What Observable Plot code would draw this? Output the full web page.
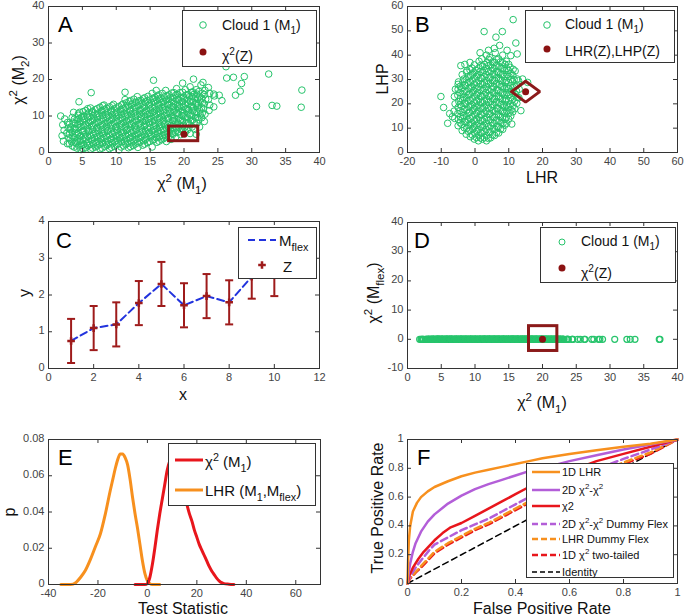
<!DOCTYPE html>
<html><head><meta charset="utf-8">
<script src="https://cdn.jsdelivr.net/npm/d3@7"></script>
<script src="https://cdn.jsdelivr.net/npm/@observablehq/plot@0.6"></script>
<style>
html,body{margin:0;padding:0;background:#fff;}
#fig{position:relative;width:685px;height:616px;overflow:hidden;font-family:"Liberation Sans",Arial,sans-serif;}
#fig > svg{position:absolute;}
</style></head><body><div id="fig"></div>
<script>
// ---------- DATA ----------
// Panel A: chi2(M1) vs chi2(M2) cloud (D reuses the chi2(M1) values)
const cloudA = [
[1.8,10],[2.2,3.1],[2.0,4.6],[2.3,6.1],[2.1,7.6],[2.4,9.2],
[2.8,2.4],[3.0,4.0],[2.7,5.3],[2.9,6.7],[2.8,8.2],
[3.5,1.8],[3.4,3.0],[3.6,4.3],[3.5,5.6],[3.3,7.0],[3.6,8.3],[3.5,9.6],[3.7,11.0],
[4.2,1.2],[4.1,2.5],[4.3,3.7],[4.2,5.0],[4.0,6.3],[4.3,7.6],[4.2,9.0],[4.4,10.2],
[4.8,0.8],[4.9,2.0],[4.7,3.2],[4.8,4.5],[5.0,5.8],[4.8,7.1],[4.7,8.4],[4.9,9.7],[4.6,11.0],[4.5,13.9],
[5.5,1.3],[5.6,2.6],[5.4,3.9],[5.5,5.1],[5.7,6.4],[5.5,7.7],[5.3,9.0],[5.6,10.3],[5.5,11.5],
[6.2,0.9],[6.1,2.1],[6.3,3.4],[6.2,4.6],[6.0,5.9],[6.3,7.2],[6.2,8.5],[6.1,9.8],[6.4,11.0],[6.2,12.2],[6.3,16.4],
[6.9,1.5],[7.0,2.8],[6.8,4.0],[6.9,5.3],[7.1,6.6],[6.9,7.9],[6.7,9.2],[7.0,10.4],[6.9,11.7],
[7.6,1.0],[7.5,2.2],[7.7,3.5],[7.6,4.7],[7.4,6.0],[7.7,7.3],[7.6,8.6],[7.5,9.9],[7.8,11.1],[7.6,12.4],
[8.3,1.6],[8.4,2.9],[8.2,4.1],[8.3,5.4],[8.5,6.7],[8.3,8.0],[8.1,9.3],[8.4,10.5],[8.3,11.8],[8.2,13.0],
[9.0,1.1],[8.9,2.3],[9.1,3.6],[9.0,4.8],[8.8,6.1],[9.1,7.4],[9.0,8.7],[8.9,10.0],[9.2,11.2],[9.0,12.5],
[9.7,1.7],[9.8,3.0],[9.6,4.2],[9.7,5.5],[9.9,6.8],[9.7,8.1],[9.5,9.4],[9.8,10.6],[9.7,11.9],[9.6,13.2],
[10.4,0.7],[10.3,2.4],[10.5,3.7],[10.4,4.9],[10.2,6.2],[10.5,7.5],[10.4,8.8],[10.3,10.1],[10.6,11.3],[10.4,12.6],
[11.1,1.8],[11.2,3.1],[11.0,4.3],[11.1,5.6],[11.3,6.9],[11.1,8.2],[10.9,9.5],[11.2,10.7],[11.1,12.0],[11.0,13.3],[11.3,14.5],[11.3,16.5],
[11.8,1.3],[11.7,2.5],[11.9,3.8],[11.8,5.0],[11.6,6.3],[11.9,7.6],[11.8,8.9],[11.7,10.2],[12.0,11.4],[11.8,12.7],[11.9,14.0],
[12.5,1.9],[12.6,3.2],[12.4,4.4],[12.5,5.7],[12.7,7.0],[12.5,8.3],[12.3,9.6],[12.6,10.8],[12.5,12.1],[12.4,13.4],[12.6,14.6],
[13.2,1.4],[13.1,2.6],[13.3,3.9],[13.2,5.1],[13.0,6.4],[13.3,7.7],[13.2,9.0],[13.1,10.3],[13.4,11.5],[13.2,12.8],[13.3,14.1],[13.1,15.3],
[13.9,2.0],[14.0,3.3],[13.8,4.5],[13.9,5.8],[14.1,7.1],[13.9,8.4],[13.7,9.7],[14.0,10.9],[13.9,12.2],[13.8,13.5],[14.0,14.7],
[14.6,2.7],[14.5,4.0],[14.7,5.2],[14.6,6.5],[14.4,7.8],[14.7,9.1],[14.6,10.4],[14.5,11.6],[14.8,12.9],[14.6,14.2],[14.7,15.4],
[15.3,1.5],[15.4,3.4],[15.2,4.6],[15.3,5.9],[15.5,7.2],[15.3,8.5],[15.1,9.8],[15.4,11.0],[15.3,12.3],[15.2,13.6],[15.4,14.8],[15.3,16.2],[15.5,19.8],
[16.0,2.8],[15.9,4.1],[16.1,5.3],[16.0,6.6],[15.8,7.9],[16.1,9.2],[16.0,10.5],[15.9,11.7],[16.2,13.0],[16.0,14.3],[16.1,15.5],[15.9,17.0],
[16.7,3.5],[16.8,4.7],[16.6,6.0],[16.7,7.3],[16.9,8.6],[16.7,9.9],[16.5,11.1],[16.8,12.4],[16.7,13.7],[16.6,14.9],[16.8,16.2],
[17.4,3.0],[17.3,4.2],[17.5,5.4],[17.4,6.7],[17.2,8.0],[17.5,9.3],[17.4,10.6],[17.3,11.8],[17.6,13.1],[17.4,14.4],[17.5,15.6],[17.3,17.0],
[18.1,3.6],[18.3,5.2],[18.0,6.1],[18.1,7.4],[18.3,8.7],[18.1,10.0],[17.9,11.2],[18.2,12.5],[18.1,13.8],[18.0,15.0],[18.2,16.3],
[18.8,4.3],[18.7,5.5],[18.9,6.8],[18.8,8.1],[18.6,9.4],[18.9,10.7],[18.8,11.9],[18.7,13.2],[19.0,14.5],[18.8,15.7],[18.9,17.5],
[19.5,4.9],[19.6,6.2],[19.4,7.5],[19.5,8.8],[19.7,10.1],[19.5,11.3],[19.3,12.6],[19.6,13.9],[19.5,15.1],[19.4,16.4],[19.8,19.0],
[20.2,5.6],[20.1,6.9],[20.3,8.2],[20.2,9.5],[20.0,10.8],[20.3,12.0],[20.2,13.3],[20.1,14.6],[20.4,15.8],[20.2,17.2],
[20.9,5.2],[20.8,7.6],[21.0,8.9],[20.9,10.2],[20.7,11.5],[21.0,12.7],[20.9,14.0],[20.8,15.3],[21.1,16.5],[20.9,18.0],
[21.8,5.0],[21.6,6.3],[21.5,8.3],[21.7,9.6],[21.6,10.9],[21.4,12.2],[21.7,13.4],[21.6,14.7],[21.5,16.0],[21.8,17.2],[21.4,20.1],
[22.3,7.0],[22.2,9.0],[22.4,10.3],[22.3,11.6],[22.1,12.9],[22.4,14.1],[22.3,15.4],[22.2,16.7],[22.5,18.5],[22.8,19.2],
[23.0,8.5],[23.1,10.5],[22.9,12.0],[23.0,13.3],[23.2,14.6],[23.0,15.9],[23.1,17.0],[23.6,17.8],
[23.7,11.5],[23.8,13.0],[23.6,14.5],[23.8,16.2],
[24.4,12.5],[24.5,15.5],[24.4,16.0],
[25.2,15.7],[25.6,14.2],[26.2,23.5],[26.3,20.4],[27.3,20.6],[27.6,15.7],[28.3,16.8],[28.5,18.9],[28.9,20.8],
[30.7,12.6],[32.5,21.5],[33.0,12.9],[33.7,12.7],[37.3,12.4],[37.4,17.1],
[3.1,2.4],[3.2,3.7],[3.1,5.0],[3.2,6.3],[3.1,7.7],
[3.8,1.5],[3.9,2.8],[3.8,4.1],[3.9,5.3],[3.8,6.6],[3.9,7.9],[3.8,9.1],
[4.5,1.8],[4.5,3.0],[4.6,4.3],[4.4,5.5],[4.5,6.8],[4.6,8.0],[4.5,9.3],[4.4,10.6],
[5.1,1.0],[5.2,2.2],[5.1,3.5],[5.2,4.8],[5.1,6.0],[5.2,7.3],[5.1,8.6],[5.2,9.9],[5.1,11.2],
[5.8,1.9],[5.9,3.1],[5.8,4.4],[5.9,5.7],[5.8,7.0],[5.9,8.2],[5.8,9.5],[5.9,10.8],[5.8,12.0],
[6.5,1.2],[6.6,2.5],[6.5,3.7],[6.6,5.0],[6.5,6.3],[6.6,7.5],[6.5,8.8],[6.6,10.1],[6.5,11.3],
[7.2,1.8],[7.3,3.1],[7.2,4.3],[7.3,5.6],[7.2,6.9],[7.3,8.2],[7.2,9.5],[7.3,10.7],[7.2,12.0],
[7.9,1.2],[8.0,2.6],[7.9,3.8],[8.0,5.1],[7.9,6.3],[8.0,7.6],[7.9,8.9],[8.0,10.2],[7.9,11.5],[8.0,12.8],
[8.6,2.0],[8.7,3.2],[8.6,4.5],[8.7,5.8],[8.6,7.1],[8.7,8.3],[8.6,9.6],[8.7,10.9],[8.6,12.1],
[9.3,1.4],[9.4,2.7],[9.3,3.9],[9.4,5.2],[9.3,6.5],[9.4,7.8],[9.3,9.0],[9.4,10.3],[9.3,11.6],[9.4,12.8],
[10.0,2.1],[10.1,3.4],[10.0,4.6],[10.1,5.9],[10.0,7.1],[10.1,8.4],[10.0,9.7],[10.1,11.0],[10.0,12.2],
[10.7,1.5],[10.8,2.9],[10.7,4.1],[10.8,5.4],[10.7,6.7],[10.8,7.9],[10.7,9.2],[10.8,10.5],[10.7,11.8],[10.8,13.0],
[11.4,2.2],[11.5,3.5],[11.4,4.8],[11.5,6.0],[11.4,7.3],[11.5,8.6],[11.4,9.8],[11.5,11.1],[11.4,12.4],[11.5,13.6],
[12.1,1.6],[12.2,2.9],[12.1,4.1],[12.2,5.4],[12.1,6.7],[12.2,7.9],[12.1,9.2],[12.2,10.5],[12.1,11.7],[12.2,13.0],[12.1,14.2],
[12.8,2.3],[12.9,3.6],[12.8,4.8],[12.9,6.1],[12.8,7.4],[12.9,8.6],[12.8,9.9],[12.9,11.2],[12.8,12.4],[12.9,13.7],
[13.5,2.8],[13.6,4.1],[13.5,5.4],[13.6,6.7],[13.5,7.9],[13.6,9.2],[13.5,10.5],[13.6,11.7],[13.5,13.0],[13.6,14.3],
[14.2,2.3],[14.3,3.6],[14.2,4.9],[14.3,6.1],[14.2,7.4],[14.3,8.7],[14.2,9.9],[14.3,11.2],[14.2,12.5],[14.3,13.8],[14.2,15.0],
[14.9,3.0],[15.0,4.3],[14.9,5.5],[15.0,6.8],[14.9,8.1],[15.0,9.3],[14.9,10.6],[15.0,11.9],[14.9,13.2],[15.0,14.4],
[15.6,3.6],[15.7,4.9],[15.6,6.2],[15.7,7.4],[15.6,8.7],[15.7,10.0],[15.6,11.3],[15.7,12.5],[15.6,13.8],[15.7,15.1],
[16.3,3.1],[16.4,4.4],[16.3,5.6],[16.4,6.9],[16.3,8.2],[16.4,9.5],[16.3,10.7],[16.4,12.0],[16.3,13.3],[16.4,14.5],[16.3,15.8],
[17.0,3.8],[17.1,5.0],[17.0,6.3],[17.1,7.6],[17.0,8.9],[17.1,10.1],[17.0,11.4],[17.1,12.7],[17.0,13.9],[17.1,15.2],
[17.7,4.3],[17.8,5.6],[17.7,6.9],[17.8,8.1],[17.7,9.4],[17.8,10.7],[17.7,11.9],[17.8,13.2],[17.7,14.5],[17.8,15.8],
[18.4,5.0],[18.5,6.2],[18.4,7.5],[18.5,8.8],[18.4,10.0],[18.5,11.3],[18.4,12.6],[18.5,13.9],[18.4,15.1],[18.5,16.4],
[19.1,5.6],[19.2,6.9],[19.1,8.1],[19.2,9.4],[19.1,10.7],[19.2,12.0],[19.1,13.2],[19.2,14.5],[19.1,15.8],
[19.8,6.3],[19.9,7.5],[19.8,8.8],[19.9,10.1],[19.8,11.4],[19.9,12.6],[19.8,13.9],[19.9,15.2],[19.8,16.5],
[20.5,6.2],[20.6,8.2],[20.5,9.5],[20.6,10.8],[20.5,12.0],[20.6,13.3],[20.5,14.6],[20.6,15.9],
[21.2,7.0],[21.3,8.9],[21.2,10.2],[21.3,11.5],[21.2,12.7],[21.3,14.0],[21.2,15.3],[21.3,16.6],
[21.9,8.0],[22.0,9.6],[21.9,10.9],[22.0,12.2],[21.9,13.5],[22.0,14.7],[21.9,16.0],
[22.6,9.5],[22.7,10.8],[22.6,12.3],[22.7,13.6],[22.6,14.9],[22.7,16.2]
];
const zA = [[20, 5]];
const boxA = [[17.8, 22.1, 3.1, 7.1]];

// Panel B: LHR vs LHP cloud
const cloudB = [
[-6.0,14],[-6.2,17],[-5.9,20],[-6.1,23],[-5.8,26],
[-5.0,11],[-4.9,13.5],[-5.1,16],[-5.0,18.5],[-4.8,21],[-5.1,23.5],[-5.0,26],[-4.9,29],
[-3.8,9],[-3.9,11.5],[-3.7,14],[-3.8,16.5],[-4.0,19],[-3.7,21.5],[-3.8,24],[-3.9,26.5],[-3.6,29],[-3.8,32],
[-2.6,7.5],[-2.5,10],[-2.7,12.5],[-2.6,15],[-2.4,17.5],[-2.7,20],[-2.6,22.5],[-2.5,25],[-2.8,27.5],[-2.6,30],[-2.5,33],
[-1.4,6.5],[-1.5,9],[-1.3,11.5],[-1.4,14],[-1.6,16.5],[-1.3,19],[-1.4,21.5],[-1.5,24],[-1.2,26.5],[-1.4,29],[-1.3,31.5],[-1.5,34],
[-0.2,5.5],[-0.1,8],[-0.3,10.5],[-0.2,13],[0.0,15.5],[-0.3,18],[-0.2,20.5],[-0.1,23],[-0.4,25.5],[-0.2,28],[-0.1,30.5],[-0.3,33],[-0.2,36],
[1.0,4.8],[1.1,7],[0.9,9.5],[1.0,12],[1.2,14.5],[0.9,17],[1.0,19.5],[1.1,22],[0.8,24.5],[1.0,27],[1.1,29.5],[0.9,32],[1.0,34.5],[1.2,37.5],
[2.2,5.5],[2.1,8],[2.3,10.5],[2.2,13],[2.0,15.5],[2.3,18],[2.2,20.5],[2.1,23],[2.4,25.5],[2.2,28],[2.1,30.5],[2.3,33],[2.2,35.5],[2.0,38.5],
[3.4,4.8],[3.5,7],[3.3,9.5],[3.4,12],[3.6,14.5],[3.3,17],[3.4,19.5],[3.5,22],[3.2,24.5],[3.4,27],[3.5,29.5],[3.3,32],[3.4,34.5],[3.6,37],[3.4,40],
[4.6,6],[4.5,8.5],[4.7,11],[4.6,13.5],[4.4,16],[4.7,18.5],[4.6,21],[4.5,23.5],[4.8,26],[4.6,28.5],[4.5,31],[4.7,33.5],[4.6,36],[4.4,39],
[5.8,7],[5.9,9.5],[5.7,12],[5.8,14.5],[6.0,17],[5.7,19.5],[5.8,22],[5.9,24.5],[5.6,27],[5.8,29.5],[5.9,32],[5.7,34.5],[5.8,37],[6.0,41],
[7.0,8],[6.9,10.5],[7.1,13],[7.0,15.5],[6.8,18],[7.1,20.5],[7.0,23],[6.9,25.5],[7.2,28],[7.0,30.5],[6.9,33],[7.1,35.5],[7.0,38.5],
[8.2,9.5],[8.3,12],[8.1,14.5],[8.2,17],[8.4,19.5],[8.1,22],[8.2,24.5],[8.3,27],[8.0,29.5],[8.2,32],[8.3,34.5],[8.1,37],[8.2,40],
[9.4,12],[9.3,14.5],[9.5,17],[9.4,19.5],[9.2,22],[9.5,24.5],[9.4,27],[9.3,29.5],[9.6,32],[9.4,34.5],[9.3,37.5],
[10.6,15],[10.7,17.5],[10.5,20],[10.6,22.5],[10.8,25],[10.5,27.5],[10.6,30],[10.7,32.5],[10.4,35],
[11.8,18],[11.7,21],[11.9,24],[11.8,27],[11.6,30],[11.9,33.5],
[13.0,22.5],[13.1,26],[12.9,29.5],
[-10.1,23],[-9.3,18.5],[-8.1,12],[-6.7,14.7],[-7.5,16],[-4.2,35.7],[-5.0,28],[-2.4,33.6],[-3.0,36.2],[-1.5,37],
[1.5,41],[2.7,49.7],[4.0,42],[5.7,42.8],[6.2,47.4],[7.3,44],[8.1,49.7],[9.5,42],[10.6,39.8],[11.3,54.6],[12.1,45],[12.5,40.5],
[13.6,17.2],[10.9,11.7],[14.1,30.2],[15.6,28.8],
[-4.4,12.2],[-4.3,14.7],[-4.5,17.2],[-4.4,19.7],[-4.3,22.2],[-4.5,24.7],[-4.4,27.2],
[-3.2,10.2],[-3.1,12.7],[-3.3,15.2],[-3.2,17.7],[-3.1,20.2],[-3.3,22.7],[-3.2,25.2],[-3.1,27.7],[-3.3,30.2],
[-2.0,8.7],[-1.9,11.2],[-2.1,13.7],[-2.0,16.2],[-1.9,18.7],[-2.1,21.2],[-2.0,23.7],[-1.9,26.2],[-2.1,28.7],[-2.0,31.2],
[-0.8,7.2],[-0.7,9.7],[-0.9,12.2],[-0.8,14.7],[-0.7,17.2],[-0.9,19.7],[-0.8,22.2],[-0.7,24.7],[-0.9,27.2],[-0.8,29.7],[-0.7,32.2],[-0.9,34.7],
[0.4,6.2],[0.5,8.7],[0.3,11.2],[0.4,13.7],[0.5,16.2],[0.3,18.7],[0.4,21.2],[0.5,23.7],[0.3,26.2],[0.4,28.7],[0.5,31.2],[0.3,33.7],
[1.6,6.0],[1.7,8.2],[1.5,10.7],[1.6,13.2],[1.7,15.7],[1.5,18.2],[1.6,20.7],[1.7,23.2],[1.5,25.7],[1.6,28.2],[1.7,30.7],[1.5,33.2],[1.6,35.7],
[2.8,6.2],[2.9,8.7],[2.7,11.2],[2.8,13.7],[2.9,16.2],[2.7,18.7],[2.8,21.2],[2.9,23.7],[2.7,26.2],[2.8,28.7],[2.9,31.2],[2.7,33.7],[2.8,36.2],
[4.0,5.8],[4.1,8.2],[3.9,10.7],[4.0,13.2],[4.1,15.7],[3.9,18.2],[4.0,20.7],[4.1,23.2],[3.9,25.7],[4.0,28.2],[4.1,30.7],[3.9,33.2],[4.0,35.7],[4.1,38.2],
[5.2,7.2],[5.3,9.7],[5.1,12.2],[5.2,14.7],[5.3,17.2],[5.1,19.7],[5.2,22.2],[5.3,24.7],[5.1,27.2],[5.2,29.7],[5.3,32.2],[5.1,34.7],[5.2,37.2],
[6.4,8.2],[6.5,10.7],[6.3,13.2],[6.4,15.7],[6.5,18.2],[6.3,20.7],[6.4,23.2],[6.5,25.7],[6.3,28.2],[6.4,30.7],[6.5,33.2],[6.3,35.7],[6.4,38.2],
[7.6,9.7],[7.7,12.2],[7.5,14.7],[7.6,17.2],[7.7,19.7],[7.5,22.2],[7.6,24.7],[7.7,27.2],[7.5,29.7],[7.6,32.2],[7.7,34.7],[7.5,37.2],
[8.8,11.2],[8.9,13.7],[8.7,16.2],[8.8,18.7],[8.9,21.2],[8.7,23.7],[8.8,26.2],[8.9,28.7],[8.7,31.2],[8.8,33.7],[8.9,36.2],
[10.0,13.7],[10.1,16.2],[9.9,18.7],[10.0,21.2],[10.1,23.7],[9.9,26.2],[10.0,28.7],[10.1,31.2],[9.9,33.7],[10.0,36.2],
[11.2,16.7],[11.3,19.2],[11.1,21.7],[11.2,24.2],[11.3,26.7],[11.1,29.2],[11.2,31.7],[11.3,34.2],
[12.4,20.2],[12.5,22.7],[12.3,25.2],[12.4,27.7],[12.5,30.2]
];
const zB = [[15, 25]];
const diamondB = [[10.8,25],[15,29.3],[19.2,25],[15,20.7],[10.8,25]];

// Panel C: data Z with error bars and M_flex fit
const cX = [1, 2, 3, 4, 5, 6, 7, 8, 9, 10];
const cY = [0.75, 1.1, 1.2, 1.78, 2.3, 1.72, 1.97, 1.8, 2.5, 2.57];
const cErr = [0.6, 0.6, 0.6, 0.6, 0.6, 0.6, 0.6, 0.6, 0.6, 0.6];

// Panel D: chi2(M_flex) is zero for every cloud member
const chi2Flex = 0;
const zD = [[20, 0]];
const boxD = [[18.0, 22.2, -4.0, 4.5]];

// Panel E: test statistic distributions
const chiDist = [[-5,0],[-1,0],[0,0.0005],[1,0.004],[2,0.011],[3,0.02],[4,0.03],[5,0.039],[6,0.047],[7,0.055],[8,0.063],[9,0.068],[10,0.071],[11,0.072],[12,0.07],[13,0.065],[14,0.058],[15,0.05],[16,0.044],[17,0.039],[18,0.035],[19,0.03],[20,0.026],[21,0.022],[22,0.019],[23,0.016],[24,0.013],[25,0.01],[26,0.0075],[27,0.0055],[28,0.0035],[29,0.002],[30,0.001],[31,0.0005],[33,0.0002],[35,0]];
const lhrDist = [[-35,0],[-31,0],[-29,0.001],[-27,0.004],[-25,0.008],[-23,0.014],[-21,0.021],[-19,0.028],[-17,0.039],[-15,0.052],[-14,0.058],[-13,0.064],[-12,0.069],[-11,0.072],[-10,0.072],[-9,0.07],[-8,0.066],[-7,0.058],[-6,0.048],[-5,0.039],[-4,0.031],[-3,0.022],[-2,0.013],[-1,0.006],[0,0.002],[1,0.0005],[2,0],[5,0]];

// Panel F: ROC curves
const rocLHR = [[0,0],[0.002,0.15],[0.005,0.3],[0.01,0.4],[0.02,0.5],[0.035,0.56],[0.05,0.6],[0.075,0.64],[0.1,0.67],[0.15,0.71],[0.2,0.745],[0.25,0.77],[0.3,0.79],[0.35,0.81],[0.4,0.83],[0.45,0.85],[0.5,0.87],[0.6,0.9],[0.7,0.925],[0.8,0.95],[0.9,0.97],[1,1]];
const roc2D = [[0,0],[0.005,0.08],[0.01,0.14],[0.02,0.22],[0.03,0.28],[0.05,0.36],[0.075,0.43],[0.1,0.48],[0.15,0.555],[0.2,0.61],[0.25,0.655],[0.3,0.69],[0.35,0.72],[0.4,0.75],[0.45,0.78],[0.5,0.8],[0.55,0.825],[0.6,0.85],[0.7,0.89],[0.8,0.93],[0.9,0.965],[1,1]];
const rocChi = [[0,0],[0.005,0.04],[0.01,0.07],[0.02,0.11],[0.04,0.17],[0.06,0.22],[0.08,0.26],[0.1,0.3],[0.13,0.35],[0.16,0.39],[0.2,0.42],[0.25,0.47],[0.3,0.52],[0.35,0.57],[0.4,0.62],[0.45,0.67],[0.5,0.71],[0.6,0.78],[0.7,0.85],[0.8,0.9],[0.9,0.95],[1,1]];
const roc2DDummy = [[0,0],[0.01,0.05],[0.03,0.11],[0.05,0.16],[0.08,0.23],[0.1,0.27],[0.15,0.32],[0.2,0.37],[0.25,0.41],[0.3,0.45],[0.35,0.5],[0.4,0.55],[0.45,0.6],[0.5,0.64],[0.6,0.72],[0.7,0.8],[0.75,0.83],[0.8,0.865],[0.9,0.93],[1,1]];
const rocLHRDummy = [[0,0],[0.01,0.04],[0.03,0.08],[0.05,0.12],[0.1,0.22],[0.15,0.28],[0.2,0.33],[0.25,0.38],[0.3,0.42],[0.35,0.47],[0.4,0.52],[0.45,0.57],[0.5,0.62],[0.6,0.7],[0.7,0.77],[0.8,0.84],[0.9,0.91],[1,1]];
const rocChi2Tail = [[0,0],[0.01,0.035],[0.03,0.075],[0.05,0.11],[0.1,0.21],[0.15,0.27],[0.2,0.32],[0.25,0.37],[0.3,0.41],[0.35,0.46],[0.4,0.51],[0.45,0.56],[0.5,0.61],[0.6,0.69],[0.7,0.76],[0.8,0.83],[0.9,0.9],[1,1]];
const rocIdentity = [[0,0],[1,1]];

// tick values
const ticksA = {x: [0,5,10,15,20,25,30,35,40], y: [0,10,20,30,40]};
const ticksB = {x: [-20,-10,0,10,20,30,40,50,60], y: [0,10,20,30,40,50,60]};
const ticksC = {x: [0,2,4,6,8,10,12], y: [0,1,2,3,4]};
const ticksD = {x: [0,5,10,15,20,25,30,35,40], y: [-10,0,10,20,30,40]};
const ticksE = {x: [-40,-20,0,20,40,60], y: [0,0.02,0.04,0.06,0.08]};
const ticksF = {x: [0,0.2,0.4,0.6,0.8,1], y: [0,0.2,0.4,0.6,0.8,1]};

// ---------- STYLE ----------
const FONT = '"Liberation Sans", Arial, sans-serif';
const AX = "#333";
const GREEN = "#27c46c";
const DARKRED = "#8b1212";
const BOXRED = "#8b1a1a";
const ERRRED = "#9e1b1b";
const BLUE = "#2233dd";
const RED = "#e8161c";
const ORANGE = "#f7901e";
const PURPLE = "#b35ed8";

const fig = document.getElementById("fig");

function panel({left, top, width, height, mt, mr, mb, ml, xDomain, yDomain, ticks, marks}) {
  const pw = width - ml - mr, ph = height - mt - mb;
  const svg = Plot.plot({
    width, height, marginTop: mt, marginRight: mr, marginBottom: mb, marginLeft: ml,
    x: {domain: xDomain, nice: false},
    y: {domain: yDomain, nice: false},
    style: {fontFamily: FONT, fontSize: "11px", color: "#444", background: "none", overflow: "visible"},
    marks: [
      ...marks,
      Plot.frame({stroke: AX, strokeWidth: 1}),
      Plot.ruleX(ticks.x, {x: d => d, stroke: AX, insetTop: ph - 4}),
      Plot.ruleX(ticks.x, {x: d => d, stroke: AX, insetBottom: ph - 4}),
      Plot.ruleY(ticks.y, {y: d => d, stroke: AX, insetRight: pw - 4}),
      Plot.ruleY(ticks.y, {y: d => d, stroke: AX, insetLeft: pw - 4}),
      Plot.axisX({ticks: ticks.x, tickSize: 0, tickPadding: 5, tickFormat: d => String(d), label: null}),
      Plot.axisY({ticks: ticks.y, tickSize: 0, tickPadding: 4, dy: -1, tickFormat: d => String(d), label: null})
    ]
  });
  svg.style.position = "absolute";
  svg.style.left = left + "px";
  svg.style.top = top + "px";
  fig.appendChild(svg);
}

// A
panel({left: 0, top: 0, width: 330, height: 205, mt: 6, mr: 11, mb: 53, ml: 48,
  xDomain: [0, 40], yDomain: [0, 40], ticks: ticksA,
  marks: [
    Plot.dot(cloudA, {x: d => d[0], y: d => d[1], r: 3.3, stroke: GREEN, strokeWidth: 1}),
    Plot.rect(boxA, {x1: d => d[0], x2: d => d[1], y1: d => d[2], y2: d => d[3], fill: "none", stroke: BOXRED, strokeWidth: 3}),
    Plot.dot(zA, {x: d => d[0], y: d => d[1], r: 3.5, fill: DARKRED})
  ]});

// B
panel({left: 340, top: 0, width: 345, height: 205, mt: 6, mr: 8, mb: 53, ml: 67,
  xDomain: [-20, 60], yDomain: [0, 60], ticks: ticksB,
  marks: [
    Plot.dot(cloudB, {x: d => d[0], y: d => d[1], r: 3.3, stroke: GREEN, strokeWidth: 1}),
    Plot.line(diamondB, {x: d => d[0], y: d => d[1], stroke: BOXRED, strokeWidth: 3, strokeLinejoin: "miter"}),
    Plot.dot(zB, {x: d => d[0], y: d => d[1], r: 3.5, fill: DARKRED})
  ]});

// C
const capSymbol = {draw(ctx) { ctx.moveTo(-4, 0); ctx.lineTo(4, 0); }};
const cData = cX.map((x, i) => ({x, y: cY[i], lo: cY[i] - cErr[i], hi: cY[i] + cErr[i]}));
panel({left: 0, top: 205, width: 330, height: 205, mt: 16, mr: 11, mb: 42, ml: 48,
  xDomain: [0, 12], yDomain: [0, 4], ticks: ticksC,
  marks: [
    Plot.ruleX(cData, {x: "x", y1: "lo", y2: "hi", stroke: ERRRED, strokeWidth: 2}),
    Plot.dot(cData, {x: "x", y: "lo", symbol: capSymbol, stroke: ERRRED, strokeWidth: 2}),
    Plot.dot(cData, {x: "x", y: "hi", symbol: capSymbol, stroke: ERRRED, strokeWidth: 2}),
    Plot.line(cData, {x: "x", y: "y", stroke: BLUE, strokeWidth: 2, strokeDasharray: "7,4"}),
    Plot.dot(cData, {x: "x", y: "y", symbol: "cross", r: 3.2, fill: ERRRED, stroke: "none"})
  ]});

// D
panel({left: 340, top: 205, width: 345, height: 205, mt: 17, mr: 8, mb: 42, ml: 67,
  xDomain: [0, 40], yDomain: [-10, 40], ticks: ticksD,
  marks: [
    Plot.dot(cloudA, {x: d => d[0], y: () => chi2Flex, r: 3, stroke: GREEN, strokeWidth: 1.2}),
    Plot.rect(boxD, {x1: d => d[0], x2: d => d[1], y1: d => d[2], y2: d => d[3], fill: "none", stroke: BOXRED, strokeWidth: 3}),
    Plot.dot(zD, {x: d => d[0], y: d => d[1], r: 3.5, fill: DARKRED})
  ]});

// E
panel({left: 0, top: 420, width: 330, height: 196, mt: 19, mr: 10, mb: 32, ml: 48,
  xDomain: [-40, 70], yDomain: [0, 0.08], ticks: ticksE,
  marks: [
    Plot.line(lhrDist, {x: d => d[0], y: d => d[1], stroke: ORANGE, strokeWidth: 3, curve: "monotone-x"}),
    Plot.line(chiDist, {x: d => d[0], y: d => d[1], stroke: RED, strokeWidth: 3, curve: "monotone-x"})
  ]});

// F
panel({left: 340, top: 420, width: 345, height: 196, mt: 19, mr: 8, mb: 33, ml: 67,
  xDomain: [0, 1], yDomain: [0, 1], ticks: ticksF,
  marks: [
    Plot.line(rocIdentity, {x: d => d[0], y: d => d[1], stroke: "#000", strokeWidth: 1.5, strokeDasharray: "6,4"}),
    Plot.line(rocChi2Tail, {x: d => d[0], y: d => d[1], stroke: RED, strokeWidth: 2.5, strokeDasharray: "7,4"}),
    Plot.line(rocLHRDummy, {x: d => d[0], y: d => d[1], stroke: ORANGE, strokeWidth: 2.5, strokeDasharray: "7,4"}),
    Plot.line(roc2DDummy, {x: d => d[0], y: d => d[1], stroke: PURPLE, strokeWidth: 2.5, strokeDasharray: "7,4"}),
    Plot.line(rocChi, {x: d => d[0], y: d => d[1], stroke: RED, strokeWidth: 2.5}),
    Plot.line(roc2D, {x: d => d[0], y: d => d[1], stroke: PURPLE, strokeWidth: 2.5}),
    Plot.line(rocLHR, {x: d => d[0], y: d => d[1], stroke: ORANGE, strokeWidth: 2.5})
  ]});

// ---------- OVERLAY: labels and legends ----------
const ov = d3.create("svg").attr("width", 685).attr("height", 616)
  .style("position", "absolute").style("left", "0px").style("top", "0px")
  .attr("font-family", FONT);
fig.appendChild(ov.node());

function rt(g, x, y, parts, {size = 14, anchor = "start", rotate = 0, fill = "#111"} = {}) {
  const t = g.append("text").attr("x", x).attr("y", y).attr("font-size", size)
    .attr("text-anchor", anchor).attr("fill", fill);
  if (rotate) t.attr("transform", `rotate(${rotate},${x},${y})`);
  let shift = 0;
  for (const [s, k] of parts) {
    const target = k === "sup" ? -0.42 * size : k === "sub" ? 0.3 * size : 0;
    const ts = t.append("tspan").text(s).attr("dy", target - shift);
    if (k) ts.attr("font-size", size * 0.72);
    shift = target;
  }
  return t;
}
const chiM1 = [["χ",""],["2","sup"],[" (M",""],["1","sub"],[")",""]];

// panel letters
[["A",58,32],["B",415,32],["C",56,248],["D",414,248],["E",58,465],["F",417,465]]
  .forEach(([s,x,y]) => rt(ov, x, y, [[s,""]], {size: 22, fill: "#000"}));

// axis labels
const AL = 16;
rt(ov, 182, 189, chiM1, {size: AL, anchor: "middle"});
rt(ov, 24, 80, [["χ",""],["2","sup"],[" (M",""],["2","sub"],[")",""]], {size: AL, anchor: "middle", rotate: -90});
rt(ov, 542, 183, [["LHR",""]], {size: AL, anchor: "middle"});
rt(ov, 388, 79, [["LHP",""]], {size: AL, anchor: "middle", rotate: -90});
rt(ov, 183, 400, [["x",""]], {size: AL, anchor: "middle"});
rt(ov, 30, 293, [["y",""]], {size: AL, anchor: "middle", rotate: -90});
rt(ov, 542, 408, chiM1, {size: AL, anchor: "middle"});
rt(ov, 379, 293, [["χ",""],["2","sup"],[" (M",""],["flex","sub"],[")",""]], {size: AL, anchor: "middle", rotate: -90});
rt(ov, 183, 614, [["Test Statistic",""]], {size: AL, anchor: "middle"});
rt(ov, 15, 512, [["p",""]], {size: AL, anchor: "middle", rotate: -90});
rt(ov, 542, 614, [["False Positive Rate",""]], {size: AL, anchor: "middle"});
rt(ov, 383, 508, [["True Positive Rate",""]], {size: AL, anchor: "middle", rotate: -90});

function box(x, y, w, h) {
  ov.append("rect").attr("x", x + 0.5).attr("y", y + 0.5).attr("width", w).attr("height", h)
    .attr("fill", "#fff").attr("stroke", AX).attr("stroke-width", 1);
}
function ring(x, y, r = 3.3) {
  ov.append("circle").attr("cx", x).attr("cy", y).attr("r", r).attr("fill", "none").attr("stroke", GREEN);
}
function blob(x, y) {
  ov.append("circle").attr("cx", x).attr("cy", y).attr("r", 3.5).attr("fill", DARKRED);
}
function seg(x1, x2, y, color, w, dash) {
  const l = ov.append("line").attr("x1", x1).attr("x2", x2).attr("y1", y).attr("y2", y)
    .attr("stroke", color).attr("stroke-width", w);
  if (dash) l.attr("stroke-dasharray", dash);
}

// Legend A
box(182, 10, 134, 56);
ring(203, 25); rt(ov, 222, 30, [["Cloud 1 (M",""],["1","sub"],[")",""]], {size: 14});
blob(203, 52); rt(ov, 222, 61, [["χ",""],["2","sup"],["(Z)",""]], {size: 14});

// Legend B
box(525, 10, 149, 52);
ring(547, 25); rt(ov, 565, 29, [["Cloud 1 (M",""],["1","sub"],[")",""]], {size: 14});
blob(547, 49); rt(ov, 565, 56, [["LHR(Z),LHP(Z)",""]], {size: 14});

// Legend C
box(238, 227, 78, 51);
seg(248, 276, 240, BLUE, 2, "7,4");
rt(ov, 279, 246, [["M",""],["flex","sub"]], {size: 15});
ov.append("path").attr("d", d3.symbol(d3.symbolCross, 32)()).attr("transform", "translate(262,265)").attr("fill", ERRRED);
rt(ov, 283, 272, [["Z",""]], {size: 15});

// Legend D
box(540, 227, 135, 55);
ring(562, 242, 3); rt(ov, 581, 246, [["Cloud 1 (M",""],["1","sub"],[")",""]], {size: 14});
blob(562, 268); rt(ov, 581, 278, [["χ",""],["2","sup"],["(Z)",""]], {size: 14});

// Legend E
box(168, 443, 147, 62);
seg(175, 203, 460, RED, 3);
rt(ov, 205, 467, [["χ",""],["2","sup"],[" (M",""],["1","sub"],[")",""]], {size: 15});
seg(175, 203, 490, ORANGE, 3);
rt(ov, 205, 496, [["LHR (M",""],["1","sub"],[",M",""],["flex","sub"],[")",""]], {size: 15});

// Legend F
box(526, 463, 147, 114);
const fEntries = [
  [472, ORANGE, null, [["1D LHR",""]]],
  [490, PURPLE, null, [["2D χ",""],["2","sup"],["-χ",""],["2","sup"]]],
  [506, RED, null, [["χ2",""]]],
  [524, PURPLE, "6,3", [["2D χ",""],["2","sup"],["-χ",""],["2","sup"],[" Dummy Flex",""]]],
  [539, ORANGE, "6,3", [["LHR Dummy Flex",""]]],
  [555, RED, "6,3", [["1D χ",""],["2","sup"],[" two-tailed",""]]],
  [572, "#000", "5,3", [["Identity",""]]]
];
for (const [y, c, dash, parts] of fEntries) {
  seg(532, 560, y, c, c === "#000" ? 1.5 : 2.5, dash);
  rt(ov, 562, y + 4, parts, {size: 11});
}
</script></body></html>
